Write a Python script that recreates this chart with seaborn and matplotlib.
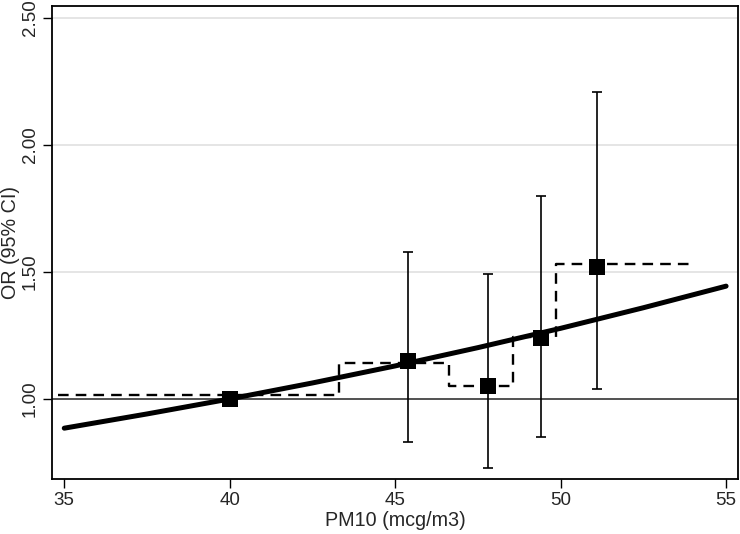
import numpy as np
import pandas as pd
import matplotlib
matplotlib.use("Agg")
import matplotlib.pyplot as plt
import seaborn as sns

# category-specific estimates (quintile medians)
pm10 = [40.0, 45.4, 47.8, 49.4, 51.1]
odds = [1.00, 1.15, 1.05, 1.24, 1.52]
ci_lo = [1.00, 0.83, 0.73, 0.85, 1.04]
ci_hi = [1.00, 1.58, 1.49, 1.80, 2.21]

# dashed step function (category cut points)
step_x = [34.8, 43.3, 46.63, 48.55, 49.87, 54.0]
step_y = [1.016, 1.14, 1.05, 1.245, 1.53, 1.53]

# linear trend curve
trend_x = [35, 37.5, 40, 42.5, 45, 47.5, 50, 52.5, 55]
trend_y = [0.885, 0.941, 1.0, 1.063, 1.130, 1.202, 1.278, 1.359, 1.444]

sns.set_theme(style="white")
plt.rcParams['font.family'] = ['Liberation Sans', 'DejaVu Sans']

fig = plt.figure(figsize=(7.4, 5.34), dpi=100)
ax = fig.add_axes([0.0703, 0.103, 0.927, 0.886])

for g in [1.5, 2.0, 2.5]:
    ax.axhline(g, color="#e3e3e3", lw=1.3, zorder=0)
ax.axhline(1.0, color="#333333", lw=1.2, zorder=1)

df_pts = pd.DataFrame({"pm10": pm10, "odds": odds})
df_step = pd.DataFrame({"x": step_x, "y": step_y})
df_trend = pd.DataFrame({"x": trend_x, "y": trend_y})

# error bars
lo = np.array(odds) - np.array(ci_lo)
hi = np.array(ci_hi) - np.array(odds)
ax.errorbar(pm10[1:], odds[1:], yerr=[lo[1:], hi[1:]], fmt="none",
            ecolor="black", elinewidth=1.2, capsize=3.8, capthick=1.2, zorder=2)

sns.lineplot(data=df_step, x="x", y="y", ax=ax, color="black", lw=1.7,
             linestyle=(0, (4.5, 3)), drawstyle="steps-post", sort=False,
             estimator=None, zorder=3)
sns.lineplot(data=df_trend, x="x", y="y", ax=ax, color="black", lw=3.6,
             sort=False, estimator=None, zorder=4)
sns.scatterplot(data=df_pts, x="pm10", y="odds", ax=ax, marker="s", s=130,
                color="black", edgecolor="black", linewidth=0, zorder=5)

ax.set_xlim(34.63, 55.36)
ax.set_ylim(0.685, 2.547)
ax.set_xticks([35, 40, 45, 50, 55])
ax.set_yticks([1.0, 1.5, 2.0, 2.5])
ax.set_yticklabels(["1.00", "1.50", "2.00", "2.50"], rotation=90, va="center")
ax.tick_params(axis="both", direction="out", length=6.5, width=1.0,
               color="black", labelsize=13.5, pad=3, bottom=True, left=True)
ax.set_xlabel("PM10 (mcg/m3)", fontsize=14.2, labelpad=1.5)
ax.set_ylabel("OR (95% CI)", fontsize=14.2, labelpad=1)
for s in ax.spines.values():
    s.set_color("black")
    s.set_linewidth(1.3)
ax.grid(False)

fig.savefig("out.png", dpi=100)
